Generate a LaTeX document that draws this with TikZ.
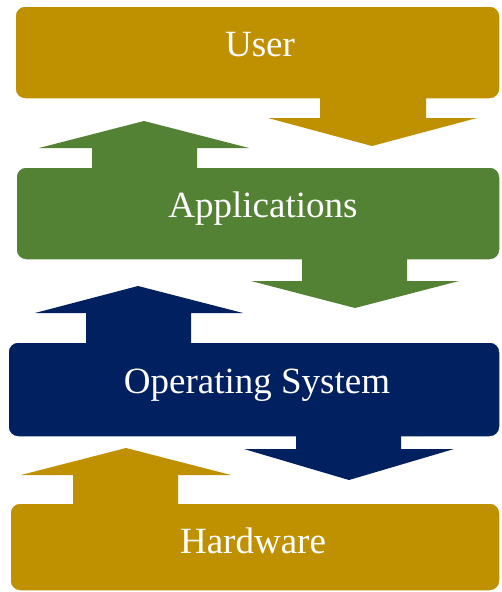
\documentclass[tikz,border=0pt]{standalone}
\usepackage{fontspec}
\setmainfont{Liberation Serif}
\definecolor{gold}{RGB}{191,144,0}
\definecolor{leaf}{RGB}{84,130,53}
\definecolor{navy}{RGB}{0,32,96}
\begin{document}
\begin{tikzpicture}[x=1pt,y=-1pt,
  layer/.style={draw=white,line width=1.5pt,rounded corners=10pt,inner sep=0pt},
  label/.style={text=white,font=\fontsize{37}{40}\selectfont,anchor=base,inner sep=0pt}]
\useasboundingbox[fill=white] (0,0) rectangle (502,592);
% layers
\draw[layer,fill=gold] (15,6) rectangle (500,99);
\draw[layer,fill=leaf] (16,167) rectangle (500,260);
\draw[layer,fill=navy] (8,342) rectangle (500,437);
\draw[layer,fill=gold] (10,503) rectangle (500,591);
% block arrows
\fill[gold] (320,97) -- (320,118) -- (268,118) -- (372,146) -- (477,118) -- (426,118) -- (426,97) -- cycle;
\fill[leaf] (144,121) -- (39,148) -- (92,148) -- (92,169) -- (197,169) -- (197,148) -- (249,148) -- cycle;
\fill[leaf] (302,258) -- (302,281) -- (251,281) -- (355,308) -- (459,281) -- (407,281) -- (407,258) -- cycle;
\fill[navy] (138,286) -- (35,313) -- (86,313) -- (86,344) -- (191,344) -- (191,313) -- (243,313) -- cycle;
\fill[navy] (296,435) -- (296,449) -- (244,449) -- (349,480) -- (454,449) -- (401,449) -- (401,435) -- cycle;
\fill[gold] (126,448) -- (21,475) -- (73,475) -- (73,505) -- (178,505) -- (178,475) -- (231,475) -- cycle;
% labels
\node[label] (user) at (260,56) {User};
\node[label] (apps) at (263,217) {Applications};
\node[label] (os) at (257,393) {Operating System};
\node[label] (hw) at (253,553) {Hardware};
\end{tikzpicture}
\end{document}
